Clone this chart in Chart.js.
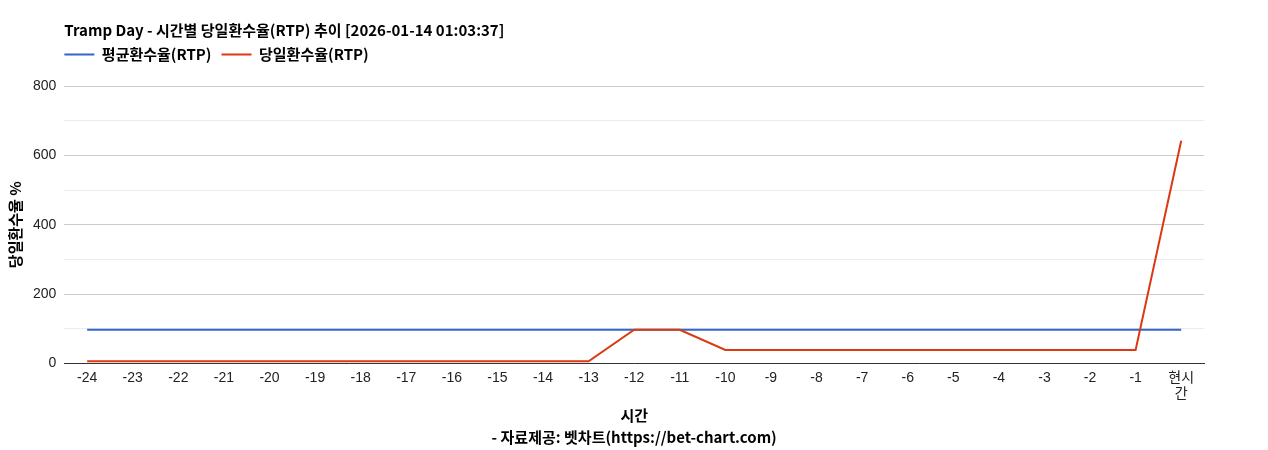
<!DOCTYPE html>
<html>
<head>
<meta charset="utf-8">
<script src="https://cdn.jsdelivr.net/npm/chart.js@4"></script>
<style>
  body { margin: 0; background: #fff; }
  #wrap { width: 1268px; height: 450px; }
</style>
</head>
<body>
<div id="wrap"><canvas id="myChart"></canvas></div>
<script>
let hours = ['-24','-23','-22','-21','-20','-19','-18','-17','-16','-15','-14','-13',
             '-12','-11','-10','-9','-8','-7','-6','-5','-4','-3','-2','-1',['현시','간']];
let avgRtp = [97,97,97,97,97,97,97,97,97,97,97,97,97,97,97,97,97,97,97,97,97,97,97,97,97];
let dayRtp = [6,6,6,6,6,6,6,6,6,6,6,6,97,97,39,39,39,39,39,39,39,39,39,39,642];
let yTicks = [0, 200, 400, 600, 800];

const fam = 'Arial, "Liberation Sans", "Noto Sans CJK KR", sans-serif';
const korFam = '"Noto Sans CJK KR", "Noto Sans", sans-serif';

let canvasChart = document.getElementById('myChart').getContext('2d');

// more room under the legend, and legend pulled to the plot's left edge
const legendGap = {
    id: 'legendGap',
    beforeInit(chart) {
        const lg = chart.legend;
        const fit = lg.fit;
        lg.fit = function () {
            fit.bind(lg)();
            this.height += 12;
        };
        const draw = lg.draw;
        lg.draw = function () {
            const ctx = this.ctx;
            ctx.save();
            ctx.translate(-10, -2);
            draw.apply(this, arguments);
            ctx.restore();
        };
    }
};

const data = {
    labels: hours,
    datasets: [
        {
            label: '평균환수율(RTP)',
            data: avgRtp,
            borderColor: '#3366cc',
            backgroundColor: '#3366cc',
            borderWidth: 2,
            pointRadius: 0,
            tension: 0,
            order: 2
        },
        {
            label: '당일환수율(RTP)',
            data: dayRtp,
            borderColor: '#dc3912',
            backgroundColor: '#dc3912',
            borderWidth: 2,
            pointRadius: 0,
            tension: 0,
            order: 1
        }
    ]
};

const config = {
    type: 'line',
    data: data,
    plugins: [legendGap],
    options: {
        responsive: true,
        maintainAspectRatio: false,
        animation: false,
        layout: {
            padding: { left: 3, right: 64, top: 21, bottom: 1 }
        },
        plugins: {
            title: {
                display: true,
                fullSize: false,
                text: 'Tramp Day - 시간별 당일환수율(RTP) 추이 [2026-01-14 01:03:37]',
                align: 'start',
                color: '#000',
                font: { family: korFam, size: 15, weight: 'bold' },
                padding: { top: 0, bottom: 0 }
            },
            legend: {
                display: true,
                fullSize: false,
                position: 'top',
                align: 'start',
                labels: {
                    usePointStyle: true,
                    pointStyle: 'line',
                    pointStyleWidth: 30,
                    color: '#000',
                    font: { family: korFam, size: 15, weight: 'bold' },
                    padding: 10,
                    sort: (a, b) => a.datasetIndex - b.datasetIndex
                }
            },
            tooltip: { enabled: false }
        },
        scales: {
            x: {
                offset: true,
                grid: { display: false, drawTicks: false },
                border: { color: '#333', width: 1 },
                ticks: {
                    color: '#222',
                    font: { family: fam, size: 14 },
                    maxRotation: 0,
                    autoSkip: false,
                    padding: 6
                },
                title: {
                    display: true,
                    text: ['시간', '- 자료제공: 벳차트(https://bet-chart.com)'],
                    color: '#000',
                    font: { family: korFam, size: 15, weight: 'bold', lineHeight: 1.5 },
                    padding: { top: -5, bottom: 0 }
                }
            },
            y: {
                min: 0,
                max: 800,
                grid: {
                    drawTicks: false,
                    color: (c) => (c.tick && yTicks.includes(c.tick.value)) ? '#cccccc' : '#ebebeb'
                },
                border: { display: false },
                ticks: {
                    stepSize: 100,
                    color: '#222',
                    font: { family: fam, size: 14 },
                    padding: 8,
                    callback: (v) => yTicks.includes(v) ? v : ''
                },
                title: {
                    display: true,
                    text: '당일환수율 %',
                    color: '#000',
                    font: { family: korFam, size: 15, weight: 'bold' },
                    padding: { top: 3, bottom: 1 }
                }
            }
        }
    }
};

let myChart = new Chart(canvasChart, config);
</script>
</body>
</html>
